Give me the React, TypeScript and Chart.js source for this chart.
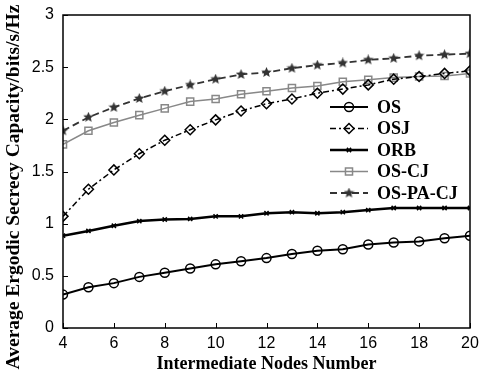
import React, { useEffect, useRef } from "react";
import { Chart, registerables } from "chart.js";
import { drawPoint } from "chart.js/helpers";

Chart.register(...registerables);

const nodes = [4, 5, 6, 7, 8, 9, 10, 11, 12, 13, 14, 15, 16, 17, 18, 19, 20];
const osValues = [0.32, 0.39, 0.43, 0.49, 0.53, 0.57, 0.61, 0.64, 0.67, 0.71, 0.74, 0.755, 0.8, 0.82, 0.83, 0.86, 0.885];
const osjValues = [1.07, 1.33, 1.515, 1.67, 1.8, 1.9, 1.995, 2.08, 2.15, 2.195, 2.25, 2.29, 2.33, 2.385, 2.41, 2.44, 2.465];
const orbValues = [0.885, 0.93, 0.98, 1.025, 1.04, 1.045, 1.07, 1.07, 1.1, 1.11, 1.1, 1.11, 1.13, 1.15, 1.15, 1.15, 1.15];
const oscjValues = [1.76, 1.89, 1.97, 2.04, 2.105, 2.17, 2.195, 2.24, 2.27, 2.3, 2.32, 2.36, 2.38, 2.4, 2.41, 2.415, 2.44];
const ospacjValues = [1.89, 2.02, 2.115, 2.2, 2.27, 2.33, 2.385, 2.43, 2.45, 2.49, 2.52, 2.54, 2.57, 2.585, 2.61, 2.62, 2.63];
const seriesNames = ["OS", "OSJ", "ORB", "OS-CJ", "OS-PA-CJ"];
const xTitle = "Intermediate Nodes Number";
const yTitle = "Average Ergodic Secrecy Capacity/bits/s/Hz";

function makeStar(color: string, size: number) {
  const c = document.createElement("canvas");
  c.width = size;
  c.height = size;
  const g = c.getContext("2d")!;
  const cx = size / 2, cy = size / 2, R = size / 2, r = R * 0.45;
  g.beginPath();
  for (let i = 0; i < 10; i++) {
    const rad = i % 2 === 0 ? R : r;
    const a = -Math.PI / 2 + (i * Math.PI) / 5;
    const px = cx + rad * Math.cos(a);
    const py = cy + rad * Math.sin(a);
    if (i === 0) g.moveTo(px, py);
    else g.lineTo(px, py);
  }
  g.closePath();
  g.fillStyle = color;
  g.fill();
  return c;
}

export default function App() {
  const ref = useRef<HTMLCanvasElement | null>(null);
  useEffect(() => {
    const star = makeStar("#333", 11);
    const toXY = (arr: number[]) => nodes.map((n, i) => ({ x: n, y: arr[i] }));
    const serif = "'Liberation Serif', 'Times New Roman', serif";
    const sans = "'Liberation Sans', Arial, sans-serif";
    const datasets: any[] = [
      { label: seriesNames[0], data: toXY(osValues), borderColor: "#000", borderWidth: 2, pointStyle: "circle", pointRadius: 4.5, pointBorderColor: "#000", pointBackgroundColor: "rgba(0,0,0,0)", pointBorderWidth: 1.5 },
      { label: seriesNames[1], data: toXY(osjValues), borderColor: "#000", borderWidth: 1.5, borderDash: [6, 3, 2, 3], pointStyle: "rectRot", pointRadius: 5, pointBorderColor: "#000", pointBackgroundColor: "rgba(0,0,0,0)", pointBorderWidth: 1.5 },
      { label: seriesNames[2], data: toXY(orbValues), borderColor: "#000", borderWidth: 2.5, pointStyle: "crossRot", pointRadius: 3, pointBorderColor: "#000", pointBorderWidth: 1.5 },
      { label: seriesNames[3], data: toXY(oscjValues), borderColor: "#888", borderWidth: 1.5, pointStyle: "rect", pointRadius: 5, pointBorderColor: "#888", pointBackgroundColor: "rgba(255,255,255,0)", pointBorderWidth: 1.5 },
      { label: seriesNames[4], data: toXY(ospacjValues), borderColor: "#333", borderWidth: 1.8, borderDash: [7, 4], pointStyle: star, pointRadius: 5, pointBorderColor: "#333" },
    ];
    const boxPlugin = {
      id: "boxTicks",
      afterDraw(chart: any) {
        const ctx = chart.ctx;
        const { left, right, top, bottom } = chart.chartArea;
        ctx.save();
        ctx.strokeStyle = "#000";
        ctx.lineWidth = 1.5;
        ctx.setLineDash([]);
        ctx.strokeRect(left, top, right - left, bottom - top);
        ctx.lineWidth = 1;
        const xs = chart.scales.x, ys = chart.scales.y;
        xs.ticks.forEach((t: any) => {
          const px = Math.round(xs.getPixelForValue(t.value)) + 0.5;
          ctx.beginPath();
          ctx.moveTo(px, bottom);
          ctx.lineTo(px, bottom - 5);
          ctx.stroke();
        });
        ys.ticks.forEach((t: any) => {
          const py = Math.round(ys.getPixelForValue(t.value)) + 0.5;
          ctx.beginPath();
          ctx.moveTo(left, py);
          ctx.lineTo(left + 5, py);
          ctx.stroke();
        });
        // axis titles
        ctx.fillStyle = "#000";
        ctx.font = `bold 18px ${serif}`;
        ctx.textAlign = "center";
        ctx.textBaseline = "alphabetic";
        ctx.fillText(xTitle, (left + right) / 2, chart.height - 3);
        ctx.save();
        ctx.translate(19, 187);
        ctx.rotate(-Math.PI / 2);
        ctx.font = `bold 19.5px ${serif}`;
        ctx.fillText(yTitle, 0, 0);
        ctx.restore();
        // legend
        const x0 = right - 140, x1 = right - 102, tx = right - 93;
        let y = top + 92;
        chart.data.datasets.forEach((ds: any) => {
          ctx.save();
          ctx.strokeStyle = ds.borderColor;
          ctx.lineWidth = ds.borderWidth;
          ctx.setLineDash(ds.borderDash || []);
          ctx.beginPath();
          ctx.moveTo(x0, y);
          ctx.lineTo(x1, y);
          ctx.stroke();
          ctx.setLineDash([]);
          ctx.strokeStyle = ds.pointBorderColor;
          ctx.fillStyle = ds.pointBackgroundColor || ds.pointBorderColor;
          ctx.lineWidth = ds.pointBorderWidth || 1;
          drawPoint(ctx, { pointStyle: ds.pointStyle, radius: ds.pointRadius, rotation: 0, borderWidth: ds.pointBorderWidth || 1 } as any, (x0 + x1) / 2, y);
          ctx.fillStyle = "#000";
          ctx.font = `bold 18px ${serif}`;
          ctx.textBaseline = "middle";
          ctx.textAlign = "left";
          ctx.fillText(ds.label, tx, y + 1);
          ctx.restore();
          y += 21.5;
        });
        ctx.restore();
      },
    };
    const chart = new Chart(ref.current!, {
      type: "line",
      data: { datasets },
      plugins: [boxPlugin],
      options: {
        animation: false,
        responsive: false,
        maintainAspectRatio: false,
        layout: { padding: { top: 15, right: 9, left: 0, bottom: 0 } },
        plugins: { legend: { display: false }, tooltip: { enabled: false } },
        scales: {
          x: {
            type: "linear",
            min: 4,
            max: 20,
            grid: { display: false, drawTicks: true, tickLength: 6 },
            border: { display: false },
            ticks: { stepSize: 2, color: "#000", font: { family: sans, size: 16 }, padding: 0, maxRotation: 0 },
            title: { display: false },
            afterFit(s: any) { s.height = 44; },
          },
          y: {
            min: 0,
            max: 3,
            grid: { display: false, drawTicks: true, tickLength: 9 },
            border: { display: false },
            ticks: { stepSize: 0.5, color: "#000", font: { family: sans, size: 16 }, padding: 0, callback: (v: any) => String(v) },
            title: { display: false },
            afterFit(s: any) { s.width = 63; },
          },
        },
      },
    });
    return () => chart.destroy();
  }, []);
  return (
    <div style={{ position: "fixed", left: 0, top: 0, width: 479, height: 372, background: "#fff" }}>
      <canvas ref={ref} width={479} height={372} />
    </div>
  );
}
